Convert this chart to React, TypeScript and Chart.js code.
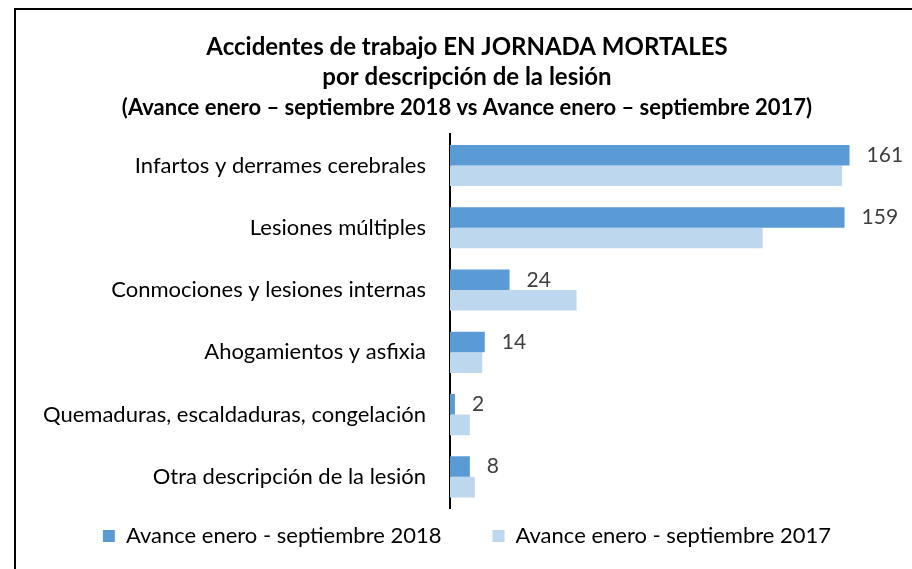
import { useEffect, useRef } from "react";
import { Chart, registerables } from "chart.js";

Chart.register(...registerables);

const categories = [
  "Infartos y derrames cerebrales",
  "Lesiones múltiples",
  "Conmociones y lesiones internas",
  "Ahogamientos y asfixia",
  "Quemaduras, escaldaduras, congelación",
  "Otra descripción de la lesión",
];
const values2018 = [161, 159, 24, 14, 2, 8];
const values2017 = [158, 126, 51, 13, 8, 10];
const seriesNames = ["Avance enero - septiembre 2018", "Avance enero - septiembre 2017"];
const titleLines = ["Accidentes de trabajo EN JORNADA MORTALES", "por descripción de la lesión"];
const subtitleText = "(Avance enero – septiembre 2018 vs Avance enero – septiembre 2017)";
const xMax = 189;

const FONT = "Lato";
const LABEL_SIZE = 22;
const LEGEND_GAP = 51;
const LEGEND_RESERVED = 49;

const valueLabels = {
  id: "valueLabels",
  afterDatasetsDraw(chart: any) {
    const meta = chart.getDatasetMeta(0);
    const ctx = chart.ctx;
    ctx.save();
    ctx.font = `21px ${FONT}`;
    ctx.fillStyle = "#404040";
    ctx.textAlign = "left";
    ctx.textBaseline = "middle";
    meta.data.forEach((el: any, i: number) => {
      ctx.fillText(String(values2018[i]), el.x + 17, el.y);
    });
    ctx.restore();
  },
};

const legendShift = {
  id: "legendShift",
  afterLayout(chart: any) {
    const lg = chart.legend;
    if (!lg) return;
    const full = lg.height;
    const itemH = LABEL_SIZE;
    const realH = itemH + LEGEND_GAP + 10;
    const shift = realH - full;
    lg.top -= shift;
    lg.height = realH;
  },
};

export default function App() {
  const ref = useRef<HTMLCanvasElement | null>(null);
  useEffect(() => {
    if (!ref.current) return;
    const chart = new Chart(ref.current, {
      type: "bar",
      data: {
        labels: categories,
        datasets: [
          {
            label: seriesNames[0],
            data: values2018,
            backgroundColor: "#5B9BD5",
            categoryPercentage: 0.66,
            barPercentage: 1,
          },
          {
            label: seriesNames[1],
            data: values2017,
            backgroundColor: "#BDD7EE",
            categoryPercentage: 0.66,
            barPercentage: 1,
          },
        ],
      },
      options: {
        indexAxis: "y",
        responsive: false,
        animation: false,
        layout: { padding: { left: 0, right: 0, top: 0, bottom: 12 } },
        scales: {
          x: { display: false, min: 0, max: xMax },
          y: {
            z: 1,
            grid: { display: false, drawTicks: false },
            border: { display: true, color: "#000", width: 2 },
            ticks: {
              color: "#000",
              padding: 24,
              font: { family: FONT, size: LABEL_SIZE },
            },
            afterFit(scale: any) {
              scale.width = 435;
            },
          },
        },
        plugins: {
          title: {
            display: true,
            text: titleLines,
            color: "#000",
            font: { family: FONT, size: 24, weight: "bold", lineHeight: 1.25 },
            padding: { top: 32, bottom: 0 },
          },
          subtitle: {
            display: true,
            text: subtitleText,
            color: "#000",
            font: { family: FONT, size: 22, weight: "bold", lineHeight: 1.2 },
            padding: { top: 3, bottom: 13 },
          },
          legend: {
            position: "bottom",
            maxHeight: LEGEND_RESERVED,
            labels: {
              color: "#000",
              boxWidth: 12,
              boxHeight: 12,
              padding: LEGEND_GAP,
              font: { family: FONT, size: LABEL_SIZE },
            },
          },
          tooltip: { enabled: false },
        },
      } as any,
      plugins: [valueLabels, legendShift],
    });
    return () => chart.destroy();
  }, []);

  return (
    <div
      style={{
        position: "absolute",
        left: 0,
        top: 0,
        width: 912,
        height: 569,
        overflow: "hidden",
        background: "#fff",
      }}
    >
      <div
        style={{
          position: "absolute",
          left: 14,
          top: 8,
          width: 920,
          height: 600,
          borderLeft: "2px solid #000",
          borderTop: "2px solid #000",
        }}
      />
      <canvas
        ref={ref}
        width={904}
        height={569}
        style={{ position: "absolute", left: 15, top: 0, width: 904, height: 569 }}
      />
    </div>
  );
}
